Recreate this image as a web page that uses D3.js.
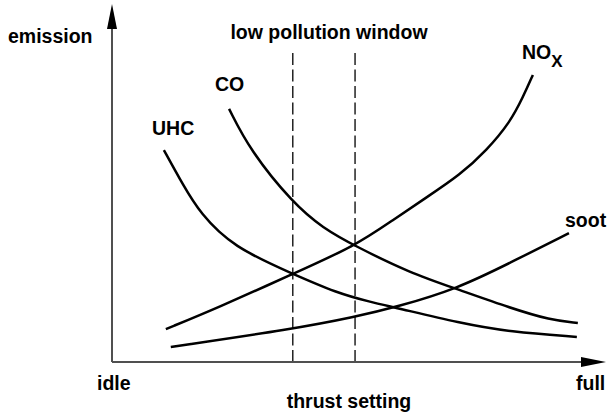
<!DOCTYPE html>
<html>
<head>
<meta charset="utf-8">
<script src="https://cdn.jsdelivr.net/npm/d3@7"></script>
<style>
  body { margin: 0; background: #fff; }
  text { font-family: "Liberation Sans", Arial, sans-serif; font-weight: bold; fill: #000; }
</style>
</head>
<body>
<div id="chart"></div>
<script>
// thrust setting (0 = idle, 100 = full) vs relative emission (0..100)
const uhcX  = [10.5, 14.4, 17.8, 24.5, 36.6, 45.5, 52.2, 57.7, 70.4, 80.6, 94.1];
const uhcY  = [59.2, 49.4, 41.6, 32.1, 24.6, 19.3, 16.8, 15.1, 10.9, 8.4, 7.0];
const coX   = [23.7, 27.9, 36.6, 42.7, 49.2, 60.3, 69.8, 80.6, 88.7, 94.3];
const coY   = [70.7, 59.2, 44.4, 37.4, 32.4, 24.9, 20.4, 15.1, 11.7, 10.9];
const noxX  = [10.9, 21.3, 36.6, 49.2, 56.9, 63.8, 70.4, 75.9, 80.6, 83.2, 85.2];
const noxY  = [9.2, 15.1, 24.6, 32.4, 39.7, 46.1, 52.2, 59.2, 67.0, 74.0, 80.2];
const sootX = [11.9, 36.6, 49.2, 57.7, 69.8, 80.6, 92.5];
const sootY = [4.2, 9.2, 12.6, 15.4, 20.4, 27.7, 36.0];

// low pollution window bounds
const windowX = [36.6, 49.2];
const windowTop = 86.3;

const width = 608, height = 415;

const svg = d3.select("#chart")
  .append("svg")
    .attr("width", width)
    .attr("height", height);

const x = d3.scaleLinear().domain([0, 100]).range([112, 606]);
const y = d3.scaleLinear().domain([0, 100]).range([362, 4]);

// dashed window lines
svg.append("g")
  .selectAll("line")
  .data(windowX)
  .join("line")
    .attr("x1", d => x(d)).attr("x2", d => x(d))
    .attr("y1", y(windowTop)).attr("y2", y(0))
    .attr("stroke", "#000")
    .attr("stroke-width", 1.3)
    .attr("stroke-dasharray", "12,4.5");

// axes with arrow heads
const axisColor = "#505050";
svg.append("line")
  .attr("x1", x(0)).attr("y1", y(0))
  .attr("x2", x(0)).attr("y2", y(100) + 20)
  .attr("stroke", axisColor).attr("stroke-width", 2);
svg.append("line")
  .attr("x1", x(0)).attr("y1", y(0))
  .attr("x2", x(100) - 20).attr("y2", y(0))
  .attr("stroke", axisColor).attr("stroke-width", 2);
svg.append("path")
  .attr("d", `M${x(0)},${y(100)} L${x(0) - 5},${y(100) + 25} L${x(0) + 5},${y(100) + 25} Z`)
  .attr("fill", "#000");
svg.append("path")
  .attr("d", `M${x(100)},${y(0)} L${x(100) - 25},${y(0) - 5} L${x(100) - 25},${y(0) + 5} Z`)
  .attr("fill", "#000");

// emission curves
const series = [
  {name: "UHC", xs: uhcX, ys: uhcY},
  {name: "CO", xs: coX, ys: coY},
  {name: "NOx", xs: noxX, ys: noxY},
  {name: "soot", xs: sootX, ys: sootY}
];

const line = d3.line()
  .x(d => x(d[0]))
  .y(d => y(d[1]))
  .curve(d3.curveBasis);

svg.append("g")
  .selectAll("path")
  .data(series)
  .join("path")
    .attr("d", s => line(d3.zip(s.xs, s.ys)))
    .attr("fill", "none")
    .attr("stroke", "#000")
    .attr("stroke-width", 2.5);

// labels
const fs = 19.5;
const label = (tx, ty, str, anchor) => svg.append("text")
  .attr("x", tx).attr("y", ty)
  .attr("text-anchor", anchor || "start")
  .attr("font-size", fs)
  .text(str);

label(8, 43, "emission");
label(329, 39, "low pollution window", "middle");
label(215, 91, "CO");
label(152, 135, "UHC");
label(565, 227, "soot");
label(97, 390, "idle");
label(576, 390, "full");
label(349, 408, "thrust setting", "middle");

const nox = label(522, 59, "NO");
nox.append("tspan")
  .attr("dy", 8)
  .attr("font-size", 17)
  .text("X");
</script>
</body>
</html>
